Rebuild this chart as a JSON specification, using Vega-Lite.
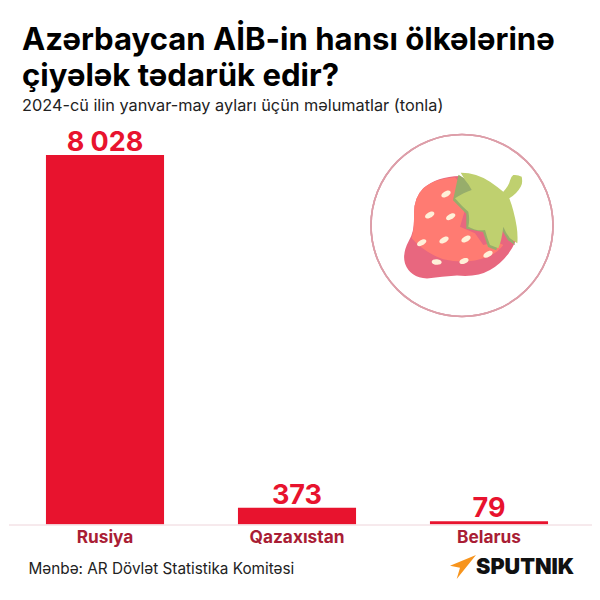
{
"$schema":"https://vega.github.io/schema/vega-lite/v6.json",
"width":583,"height":425,
"padding":{"left":9,"top":100,"right":8,"bottom":75},
"autosize":"none",
"background":"white",
"view":{"stroke":null},
"title":{"text":["Azərbaycan AİB-in hansı ölkələrinə","çiyələk tədarük edir?"],"subtitle":"2024-cü ilin yanvar-may ayları üçün məlumatlar (tonla)","anchor":"start","frame":"group","dx":13,"font":"Inter","fontSize":31.1,"fontWeight":"bold","color":"#000000","lineHeight":36,"subtitleFont":"Inter","subtitleFontSize":16.3,"subtitleColor":"#222222","subtitleFontWeight":"normal","subtitlePadding":6,"offset":-14},
"data":{"values":[{"country":"Rusiya","value":8028,"label":"8 028"},{"country":"Qazaxıstan","value":373,"label":"373"},{"country":"Belarus","value":79,"label":"79"}]},
"layer":[
{"mark":{"type":"bar","color":"#e8132e"},
"encoding":{"x":{"field":"country","type":"nominal","sort":null,"scale":{"range":[0,576],"paddingInner":0.385,"paddingOuter":0.1925},
"axis":{"title":"Mənbə: AR Dövlət Statistika Komitəsi","titleAnchor":"start","titleX":19,"titleY":48,"titleFont":"Inter","titleFontSize":15.3,"titleFontWeight":"normal","titleColor":"#222222","titleBaseline":"alphabetic","labelAngle":0,"labelFont":"Inter","labelFontSize":17.3,"labelFontWeight":"bold","labelColor":"#a91d35","domain":false,"ticks":false,"labelPadding":3,
"encode":{"labels":{"update":{"dy":{"signal":"datum.value=='Rusiya'?0:datum.value=='Qazaxıstan'?1:2"},"dx":{"signal":"datum.value=='Rusiya'?2:datum.value=='Qazaxıstan'?2:-1"}}}}}},
"y":{"field":"value","type":"quantitative","scale":{"domain":[0,9221],"nice":false},"axis":null}}},
{"mark":{"type":"text","font":"Inter","fontWeight":"bold","fontSize":27,"color":"#e8132e","dy":-12},
"encoding":{"x":{"field":"country","type":"nominal","sort":null},"y":{"field":"value","type":"quantitative"},"text":{"field":"label"}}},
{"mark":{"type":"rule","color":"#f5e6ea","strokeWidth":1},"encoding":{"y":{"datum":0,"type":"quantitative"}}},
{"mark":{"type":"point","shape":"circle","filled":false,"opacity":1,"stroke":"#dd9ea9","strokeWidth":1.6,"size":33124,"xOffset":-27},
"encoding":{"x":{"datum":"Belarus"},"y":{"datum":6498,"type":"quantitative"}}},
{"data":{"values":[{"part":"body"},{"part":"flesh"},{"part":"seeds"},{"part":"leafshade"},{"part":"leaf"}]},
"mark":{"type":"point","filled":true,"opacity":1,"size":4,"xOffset":-27},
"encoding":{"x":{"datum":"Belarus"},"y":{"datum":6498,"type":"quantitative"},
"color":{"field":"part","type":"nominal","legend":null,"scale":{"domain":["body","flesh","seeds","leafshade","leaf"],"range":["#e8677f","#ff7b72","#fff0d8","#97ad6b","#bfd06f"]}},
"shape":{"field":"part","type":"nominal","legend":null,"scale":{"domain":["body","flesh","seeds","leafshade","leaf"],"range":[
"M -2 -49.5 Q -25 -49 -38.7 -37.2 Q -48 -28 -48 -12 Q -47 5 -53 15 Q -60 28 -57 38 Q -52 52 -35 53 Q -20 51 -5 50 Q 15 52 28 44.5 Q 45 35 54 15 L 38 -22 Z",
"M -7 -48.2 Q -27 -47 -38.7 -37.2 Q -48 -28 -48 -12 Q -47.5 2 -50.3 12.8 Q -38 27 -18.7 33.8 Q 5 39 24.7 31.8 Q 36 27 41.3 19.5 L 34.7 16.2 L 21.3 19.5 L 13 7.8 L -2 1.2 L 3 -15.5 L -8.7 -27.2 L 1.3 -38.8 Z",
"M -20.4 -29 C -18.6 -25.9 -9.8 -30.9 -11.6 -34 C -13.4 -37.1 -22.2 -32.1 -20.4 -29 Z M -36.7 -8 C -34.9 -4.9 -26.1 -9.9 -27.9 -13 C -29.7 -16.1 -38.5 -11.1 -36.7 -8 Z M -15.7 -6.3 C -13.9 -3.2 -5.1 -8.2 -6.9 -11.3 C -8.7 -14.4 -17.5 -9.4 -15.7 -6.3 Z M -44.7 19.7 C -42.9 22.8 -34.1 17.8 -35.9 14.7 C -37.7 11.6 -46.5 16.6 -44.7 19.7 Z M -22.4 17 C -20.6 20.1 -11.8 15.1 -13.6 12 C -15.4 8.9 -24.2 13.9 -22.4 17 Z M -0.4 16 C 1.4 19.1 10.2 14.1 8.4 11 C 6.6 7.9 -2.2 12.9 -0.4 16 Z M 21.6 31.3 C 23.4 34.4 32.2 29.4 30.4 26.3 C 28.6 23.2 19.8 28.2 21.6 31.3 Z M -2.5 37 C -1.5 40.5 7.5 37.5 6.5 34 C 5.5 30.5 -3.5 33.5 -2.5 37 Z M -30.3 36.2 C -30.3 40 -20.3 40.5 -20.3 36.8 C -20.3 33 -30.3 32.5 -30.3 36.2 Z",
"M -3.5 -50.8 L -9 -25.2 L 4.3 -11.8 L 4.3 3.2 L 21 6.5 L 26 21.5 L 34.3 24.8 L 39.3 3.2 L 46 14.8 L 53.3 19.8 L 30 -30 Z",
"M -1.3 -52.8 Q 14 -53 28 -43.8 Q 35 -39 41.3 -33.8 Q 47 -40 48 -45 Q 49 -49 51.3 -50.5 Q 56 -51 59.7 -48.8 Q 61 -42 58.7 -38.8 Q 55 -32 47.3 -27.2 Q 52 -15 54.7 1.2 Q 56 10 55.3 17.8 Q 51 15 48 12.8 Q 44 8 41.3 1.2 Q 40 14 36.3 22.8 L 28 19.5 Q 25 12 23 4.5 Q 15 6 6.3 1.2 Q 8 -6 6.3 -13.8 Q 0 -19 -7 -27.2 Q 2 -33 9.7 -35.5 Q 7 -41 3 -45.5 Z"
]}}}},
{"data":{"values":[{"part":"wedge"}]},
"mark":{"type":"point","filled":true,"opacity":1,"size":4,"fill":"#f7941d","shape":"M -13 -19.3 L -39 -8.6 L -29 -6.6 L -32.3 4.7 Z"},
"encoding":{"x":{"datum":"Belarus"},"y":{"datum":-1070,"type":"quantitative"}}},
{"data":{"values":[{"brand":"SPUTNIK"}]},
"mark":{"type":"text","font":"Inter","fontWeight":900,"fontSize":21.6,"align":"left","baseline":"alphabetic","color":"#111111","xOffset":-13},
"encoding":{"x":{"datum":"Belarus"},"y":{"datum":-1070,"type":"quantitative"},"text":{"field":"brand"}}}
]
}
